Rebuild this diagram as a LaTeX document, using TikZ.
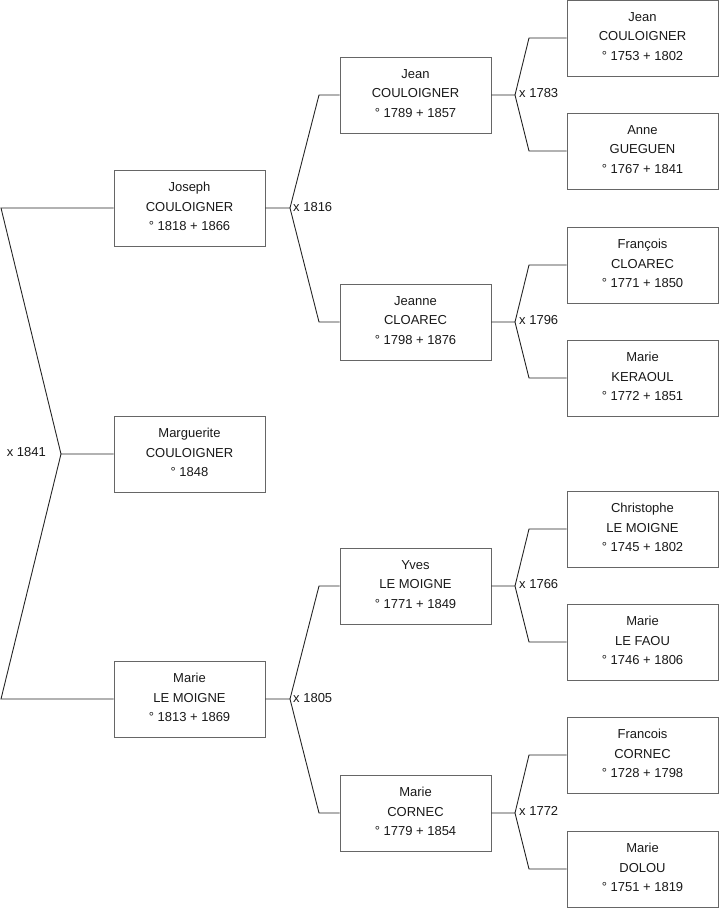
\documentclass[tikz,border=0pt]{standalone}
\usepackage{fontspec}
\setmainfont{Liberation Sans}
\begin{document}
\begin{tikzpicture}[x=1pt,y=-1pt,
  person/.style={draw=black!60,line width=0.9pt,minimum width=151pt,minimum height=76pt,
    inner sep=0pt,align=center,font=\fontsize{13}{19.8}\selectfont,text=black!90,
    text depth=0pt},
  conn/.style={draw=black!85,line width=0.9pt},
  mlabel/.style={font=\fontsize{13}{14}\selectfont,inner sep=0pt,text=black!90}]
\useasboundingbox (0,0) rectangle (719,908);
% person boxes (text shifted slightly upward inside the box)
\newcommand{\pbox}[3]{\node[person] (#1) at #2 {}; \node[align=center,inner sep=0pt,font=\fontsize{13}{19.8}\selectfont,text=black!90] (#1t) at ([yshift=1.5pt]#1.center) {#3};}
% generation 1
\pbox{joseph}{(189.5,208)}{Joseph\\COULOIGNER\\° 1818 + 1866}
\pbox{marguerite}{(189.5,454)}{Marguerite\\COULOIGNER\\° 1848}
\pbox{marieLM}{(189.5,699)}{Marie\\LE MOIGNE\\° 1813 + 1869}
% generation 2
\pbox{jean}{(415.5,95)}{Jean\\COULOIGNER\\° 1789 + 1857}
\pbox{jeanne}{(415.5,322)}{Jeanne\\CLOAREC\\° 1798 + 1876}
\pbox{yves}{(415.5,586)}{Yves\\LE MOIGNE\\° 1771 + 1849}
\pbox{marieC}{(415.5,813)}{Marie\\CORNEC\\° 1779 + 1854}
% generation 3
\pbox{jean2}{(642.5,38)}{Jean\\COULOIGNER\\° 1753 + 1802}
\pbox{anne}{(642.5,151)}{Anne\\GUEGUEN\\° 1767 + 1841}
\pbox{francois}{(642.5,265)}{François\\CLOAREC\\° 1771 + 1850}
\pbox{marieK}{(642.5,378)}{Marie\\KERAOUL\\° 1772 + 1851}
\pbox{christophe}{(642.5,529)}{Christophe\\LE MOIGNE\\° 1745 + 1802}
\pbox{marieLF}{(642.5,642)}{Marie\\LE FAOU\\° 1746 + 1806}
\pbox{francoisC}{(642.5,755)}{Francois\\CORNEC\\° 1728 + 1798}
\pbox{marieD}{(642.5,869)}{Marie\\DOLOU\\° 1751 + 1819}
% root bracket
\coordinate (r1) at (1,208);
\coordinate (r0) at (61,454);
\coordinate (r2) at (1,699);
\draw[conn] (joseph.west) -- (r1) -- (r0) -- (marguerite.west);
\draw[conn] (r0) -- (r2) -- (marieLM.west);
\node[mlabel,anchor=east] (l1841) at (46,452) {x 1841};
% gen1 -> gen2
\coordinate (j1) at (290,208);
\coordinate (j1a) at (319,95);
\coordinate (j1b) at (319,322);
\draw[conn] (joseph.east) -- (j1) -- (j1a) -- (jean.west);
\draw[conn] (j1) -- (j1b) -- (jeanne.west);
\node[mlabel,anchor=west] (l1816) at (293,207) {x 1816};
\coordinate (j2) at (290,699);
\coordinate (j2a) at (319,586);
\coordinate (j2b) at (319,813);
\draw[conn] (marieLM.east) -- (j2) -- (j2a) -- (yves.west);
\draw[conn] (j2) -- (j2b) -- (marieC.west);
\node[mlabel,anchor=west] (l1805) at (293,698) {x 1805};
% gen2 -> gen3
\coordinate (k1) at (515,95);
\coordinate (k1a) at (529,38);
\coordinate (k1b) at (529,151);
\draw[conn] (jean.east) -- (k1) -- (k1a) -- (jean2.west);
\draw[conn] (k1) -- (k1b) -- (anne.west);
\node[mlabel,anchor=west] (l1783) at (519,93) {x 1783};
\coordinate (k2) at (515,322);
\coordinate (k2a) at (529,265);
\coordinate (k2b) at (529,378);
\draw[conn] (jeanne.east) -- (k2) -- (k2a) -- (francois.west);
\draw[conn] (k2) -- (k2b) -- (marieK.west);
\node[mlabel,anchor=west] (l1796) at (519,320) {x 1796};
\coordinate (k3) at (515,586);
\coordinate (k3a) at (529,529);
\coordinate (k3b) at (529,642);
\draw[conn] (yves.east) -- (k3) -- (k3a) -- (christophe.west);
\draw[conn] (k3) -- (k3b) -- (marieLF.west);
\node[mlabel,anchor=west] (l1766) at (519,584) {x 1766};
\coordinate (k4) at (515,813);
\coordinate (k4a) at (529,755);
\coordinate (k4b) at (529,869);
\draw[conn] (marieC.east) -- (k4) -- (k4a) -- (francoisC.west);
\draw[conn] (k4) -- (k4b) -- (marieD.west);
\node[mlabel,anchor=west] (l1772) at (519,811) {x 1772};
\end{tikzpicture}
\end{document}
